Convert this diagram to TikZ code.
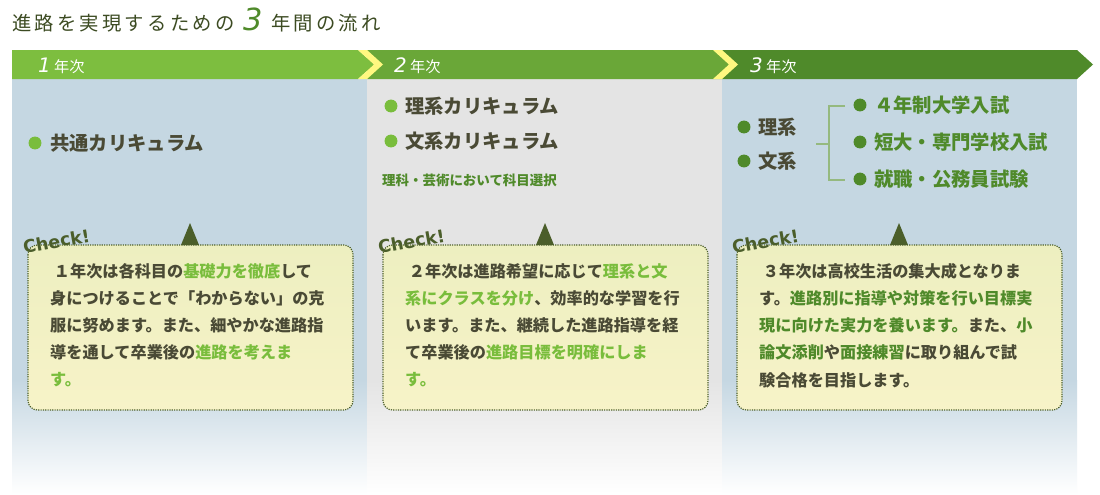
\documentclass[tikz,border=0pt]{standalone}
\usepackage{fontspec}
\setmainfont{Noto Sans CJK JP}
\newfontfamily\jb{Noto Sans CJK JP}[BoldFont={* Bold}]
\newfontfamily\ck{DejaVu Sans}
\usetikzlibrary{shadings}
\definecolor{gA}{HTML}{7DBE3F}
\definecolor{gB}{HTML}{6AA738}
\definecolor{gC}{HTML}{4F8A2A}
\definecolor{bl}{HTML}{C5D7E2}
\definecolor{gr}{HTML}{E4E4E4}
\definecolor{txt}{HTML}{4A4A35}
\definecolor{hl}{HTML}{79BD3C}
\definecolor{dk}{HTML}{4B5E2A}
\definecolor{bxa}{HTML}{EDEFC0}
\definecolor{bxb}{HTML}{F7F3C8}
\begin{document}
\begin{tikzpicture}[x=0.03cm,y=-0.03cm,
  hdr/.style={font=\fontsize{13}{13}\selectfont\jb,text=white,anchor=west},
  item/.style={font=\fontsize{16.5}{16.5}\selectfont\bfseries,text=txt,anchor=west},
  gitem/.style={font=\fontsize{16.5}{16.5}\selectfont\bfseries,text=gC,anchor=west},
  body/.style={font=\fontsize{13.8}{23.2}\selectfont\bfseries,text=txt,anchor=north west,align=left,inner sep=0pt},
  box/.style={draw=dk,densely dotted,line width=1pt,rounded corners=8pt,top color=bxa,bottom color=bxb},
  dot/.style={circle,inner sep=0pt,minimum size=11pt}]
\useasboundingbox (0,0) rectangle (1100,494);
\fill[white] (0,0) rectangle (1100,494);
% panels
\fill[bl] (12,79) rectangle (367,380);
\fill[gr] (367,79) rectangle (722,380);
\fill[bl] (722,79) rectangle (1077,380);
\shade[top color=bl,bottom color=white] (12,380) rectangle (367,494);
\shade[top color=gr,bottom color=white] (367,380) rectangle (722,494);
\shade[top color=bl,bottom color=white] (722,380) rectangle (1077,494);
% header
\fill[gC] (722,50) -- (1077,50) -- (1093,64.5) -- (1077,79) -- (722,79) -- cycle;
\fill[gB] (367,50) -- (722,50) -- (738,64.5) -- (722,79) -- (367,79) -- cycle;
\fill[gA] (12,50) -- (358,50) -- (374,64.5) -- (358,79) -- (12,79) -- cycle;
\fill[yellow!50] (358,50) -- (367,50) -- (383,64.5) -- (367,79) -- (358,79) -- (374,64.5) -- cycle;
\fill[yellow!50] (713,50) -- (722,50) -- (738,64.5) -- (722,79) -- (713,79) -- (729,64.5) -- cycle;
\node[hdr] (h1) at (34,66) {{\fontsize{17}{17}\selectfont\itshape\ck 1} 年次};
\node[hdr] (h2) at (390,66) {{\fontsize{17}{17}\selectfont\itshape\ck 2} 年次};
\node[hdr] (h3) at (746,66) {{\fontsize{17}{17}\selectfont\itshape\ck 3} 年次};
% title
\node[anchor=west,text=dk!80!black,font=\fontsize{16.5}{16.5}\selectfont,inner sep=0pt] (t) at (12,20) {進\,路\,を\,実\,現\,す\,る\,た\,め\,の\ \ {\fontsize{26}{26}\selectfont\itshape\ck\color{gC} 3}\ \ 年\,間\,の\,流\,れ};
% column 1
\node[dot,fill=hl] (d1) at (35,143) {};
\node[item] (c1) at (46,143) {共通カリキュラム};
% column 2
\node[dot,fill=hl] (d2) at (391,106) {};
\node[item] (r2) at (401,106) {理系カリキュラム};
\node[dot,fill=hl] (d3) at (391,141) {};
\node[item] (b2) at (401,141) {文系カリキュラム};
\node[anchor=west,text=gC,font=\fontsize{11.5}{11.5}\selectfont\bfseries] (s2) at (378,180) {理科・芸術において科目選択};
% column 3
\node[dot,fill=gC] (d4) at (744,127) {};
\node[item] (r3) at (754,127) {理系};
\node[dot,fill=gC] (d5) at (744,161) {};
\node[item] (b3) at (754,161) {文系};
\coordinate (j) at (829,144);
\draw[gC!60,line width=1pt] (816,144) -- (j) (845,106) -- (829,106) -- (829,180) -- (845,180);
\node[dot,fill=gC] (e1) at (860,105) {};
\node[gitem] (u1) at (870,105) {４年制大学入試};
\node[dot,fill=gC] (e2) at (860,142) {};
\node[gitem] (u2) at (870,142) {短大・専門学校入試};
\node[dot,fill=gC] (e3) at (860,179) {};
\node[gitem] (u3) at (870,179) {就職・公務員試験};
% boxes
\foreach \x/\n in {28/1,383/2,737/3}{
  \draw[box] (\x,245) rectangle (\x+325,410);
  \fill[dk] (\x+162-9,245) -- (\x+162,223) -- (\x+162+9,245) -- cycle;
  \node[rotate=10,text=dk,font=\fontsize{15}{15}\selectfont\ck\bfseries,anchor=west,inner sep=0pt] (ck\n) at (\x-5,247) {Check!};
}
\node[body] (t1) at (50,263) {\ １年次は各科目の\textcolor{hl}{基礎力を徹底}して\\身につけることで「わからない」の克\\服に努めます。また、細やかな進路指\\導を通して卒業後の\textcolor{hl}{進路を考えま}\\\textcolor{hl}{す。}};
\node[body] (t2) at (405,263) {\ ２年次は進路希望に応じて\textcolor{hl}{理系と文}\\\textcolor{hl}{系にクラスを分け}、効率的な学習を行\\います。また、継続した進路指導を経\\て卒業後の\textcolor{hl}{進路目標を明確にしま}\\\textcolor{hl}{す。}};
\node[body] (t3) at (759,263) {\ ３年次は高校生活の集大成となりま\\す。\textcolor{gC}{進路別に指導や対策を行い目標実}\\\textcolor{gC}{現に向けた実力を養います。}また、\textcolor{gC}{小}\\\textcolor{gC}{論文添削}や\textcolor{gC}{面接練習}に取り組んで試\\験合格を目指します。};
\end{tikzpicture}
\end{document}
